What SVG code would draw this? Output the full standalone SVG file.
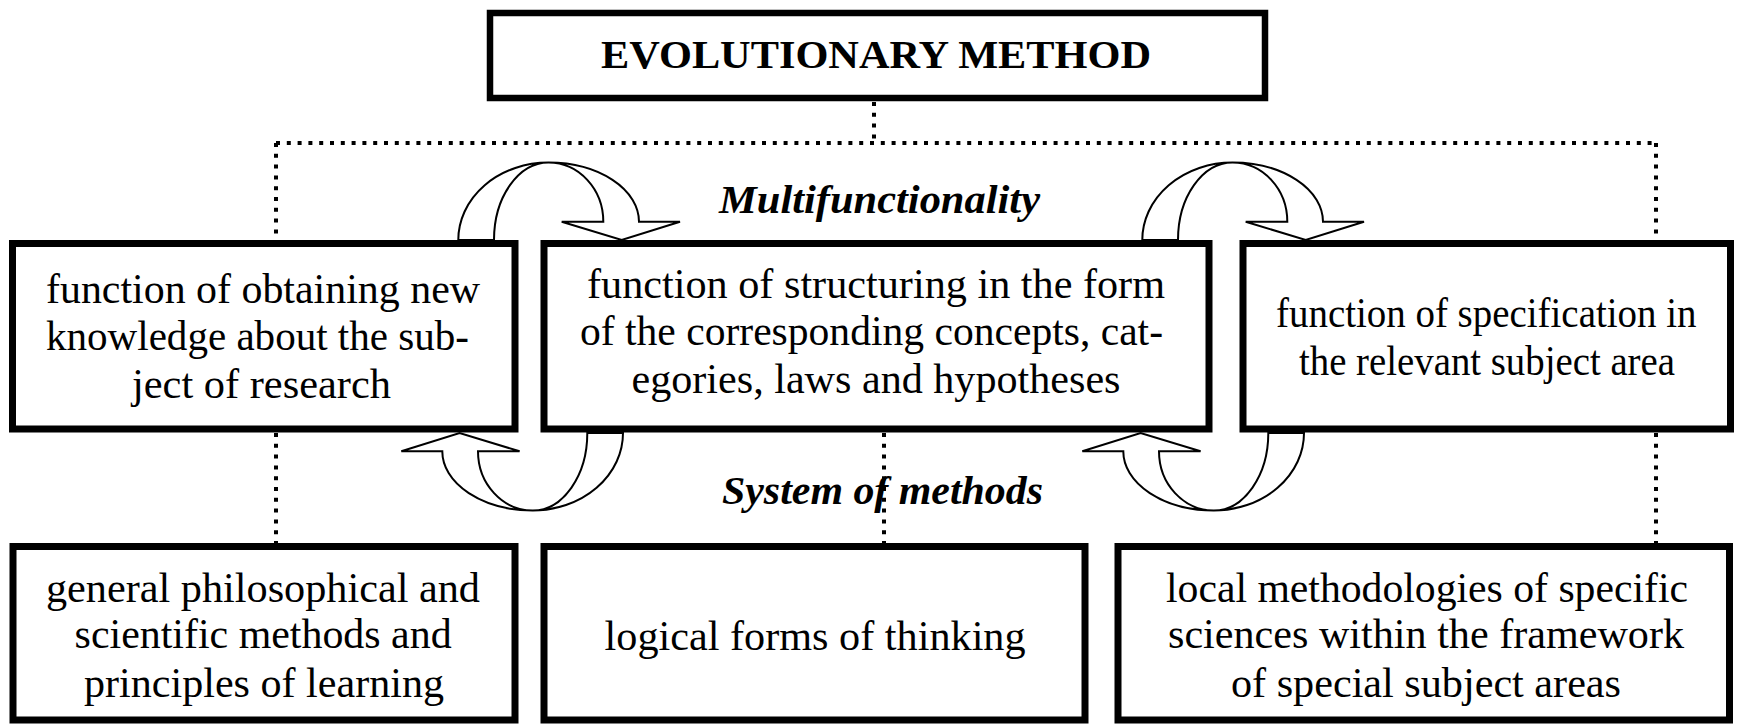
<svg xmlns="http://www.w3.org/2000/svg" width="1747" height="724" viewBox="0 0 1747 724">
<style>
.box{fill:#fff;stroke:#000;stroke-width:7}
.tbox{fill:#fff;stroke:#000;stroke-width:6.5}
text{font-family:"Liberation Serif","Times New Roman",serif;fill:#000;text-anchor:middle}
.t{font-size:43px}
.ts{font-size:42px}
.title{font-size:40px;font-weight:bold}
.lbl{font-size:40px;font-weight:bold;font-style:italic}
.dot{fill:none;stroke:#000;stroke-width:4;stroke-dasharray:4 6.8}
.arr{fill:#fff;stroke:#000;stroke-width:2;stroke-linejoin:miter}
</style>
<defs>
<path id="carrow" class="arr" d="M458.3,240 A90.2,77.5 0 0 1 548.5,162.5 A90.5,59.2 0 0 1 639,221.7 L680,221.7 L621.7,240 L561.7,221.7 L603.3,221.7 A54.8,59.2 0 0 0 548.5,162.5 A54.5,77.5 0 0 0 494,240 Z"/>
</defs>
<rect width="1747" height="724" fill="#fff"/>
<g id="connectors">
<path class="dot" d="M874,102 V143 M276,143 H1656 M276,143 V243 M1656,143 V243"/>
<path class="dot" d="M276,433 V546 M884,433 V546 M1656,433 V546"/>
<use href="#carrow"/>
<use href="#carrow" transform="translate(684,0)"/>
<use href="#carrow" transform="rotate(180,540.65,336.5)"/>
<use href="#carrow" transform="translate(681,0) rotate(180,540.65,336.5)"/>
</g>
<g id="top">
<rect class="tbox" x="490" y="13" width="775" height="85"/>
<text class="title" x="876" y="68" textLength="550" lengthAdjust="spacingAndGlyphs">EVOLUTIONARY METHOD</text>
</g>
<g id="f1">
<rect class="box" x="12.5" y="243.5" width="502.5" height="185.5"/>
<text class="t" lengthAdjust="spacingAndGlyphs" x="263" y="302.7" textLength="434">function of obtaining new</text>
<text class="t" lengthAdjust="spacingAndGlyphs" x="257.5" y="350" textLength="423">knowledge about the sub-</text>
<text class="t" lengthAdjust="spacingAndGlyphs" x="261.5" y="398" textLength="259">ject of research</text>
</g>
<g id="f2">
<rect class="box" x="544" y="243.5" width="665" height="185.5"/>
<text class="t" lengthAdjust="spacingAndGlyphs" x="876" y="298" textLength="578">function of structuring in the form</text>
<text class="t" lengthAdjust="spacingAndGlyphs" x="871.5" y="345" textLength="583">of the corresponding concepts, cat-</text>
<text class="t" lengthAdjust="spacingAndGlyphs" x="876" y="393" textLength="489">egories, laws and hypotheses</text>
</g>
<g id="f3">
<rect class="box" x="1243" y="243.5" width="487.5" height="185.5"/>
<text class="ts" lengthAdjust="spacingAndGlyphs" x="1486.25" y="326.7" textLength="420.5">function of specification in</text>
<text class="t" lengthAdjust="spacingAndGlyphs" x="1487" y="375" textLength="376">the relevant subject area</text>
</g>
<g id="labels">
<text class="lbl" x="879.5" y="213" textLength="321" lengthAdjust="spacingAndGlyphs">Multifunctionality</text>
<text class="lbl" x="882.5" y="504" textLength="321" lengthAdjust="spacingAndGlyphs">System of methods</text>
</g>
<g id="m1">
<rect class="box" x="13" y="546.5" width="502" height="173.5"/>
<text class="t" lengthAdjust="spacingAndGlyphs" x="263" y="601.7" textLength="434">general philosophical and</text>
<text class="t" lengthAdjust="spacingAndGlyphs" x="263.1" y="648.3" textLength="377">scientific methods and</text>
<text class="t" lengthAdjust="spacingAndGlyphs" x="264" y="696.7" textLength="360">principles of learning</text>
</g>
<g id="m2">
<rect class="box" x="544" y="546.5" width="541" height="173.5"/>
<text class="t" lengthAdjust="spacingAndGlyphs" x="815.1" y="650" textLength="421">logical forms of thinking</text>
</g>
<g id="m3">
<rect class="box" x="1118" y="546.5" width="611.5" height="173.5"/>
<text class="t" lengthAdjust="spacingAndGlyphs" x="1427" y="601.7" textLength="522">local methodologies of specific</text>
<text class="t" lengthAdjust="spacingAndGlyphs" x="1426" y="648.3" textLength="516">sciences within the framework</text>
<text class="t" lengthAdjust="spacingAndGlyphs" x="1426" y="696.7" textLength="390">of special subject areas</text>
</g>
</svg>
